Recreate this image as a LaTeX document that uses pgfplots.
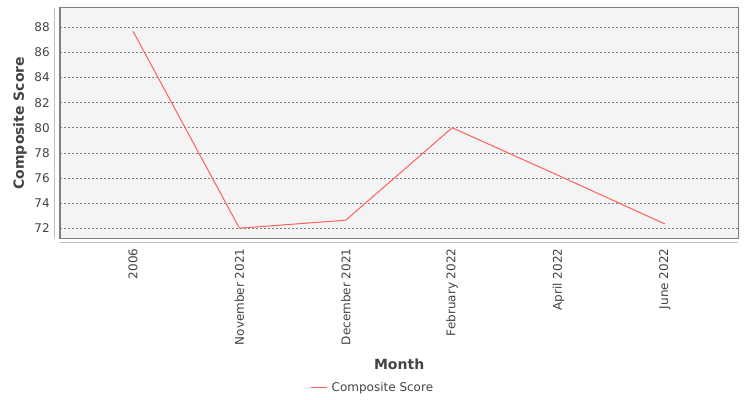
\documentclass[border=0pt]{standalone}
\usepackage{pgfplots}
\pgfplotsset{compat=1.18}
\usepackage{fontspec}
\setmainfont{DejaVu Sans}
\definecolor{plotbg}{RGB}{244,244,244}
\definecolor{frameg}{RGB}{128,128,128}
\definecolor{axisg}{RGB}{192,192,192}
\definecolor{gridg}{RGB}{125,125,125}
\definecolor{txt}{RGB}{68,68,68}
\definecolor{serie}{RGB}{255,95,95}
\begin{document}
\begin{tikzpicture}[x=1pt,y=1pt]
\path[use as bounding box, fill=white] (0,0) rectangle (562.5,300);
\begin{axis}[
  at={(45pt,121.3pt)}, anchor=south west,
  scale only axis, width=508.7pt, height=172.7pt,
  xmin=-0.687, xmax=5.69, ymin=71.2, ymax=89.54,
  axis background/.style={fill=plotbg},
  axis line style={frameg, line width=0.75pt},
  xtick={0,1,2,3,4,5},
  xticklabels={2006,November 2021,December 2021,February 2022,April 2022,June 2022},
  ytick={72,74,76,78,80,82,84,86,88},
  major tick length=0pt,
  tick style={draw=none},
  ymajorgrids,
  grid style={gridg, line width=0.45pt, dash pattern=on 1.5pt off 1.5pt},
  ticklabel style={font=\fontsize{9}{10}\selectfont, text=txt},
  /pgf/number format/assume math mode=true,
  yticklabel style={inner sep=0pt, anchor=east},
  yticklabel shift=7.5pt,
  xticklabel style={inner sep=0pt, rotate=90, anchor=east},
  xticklabel shift=7.5pt,
  xlabel={Month}, ylabel={Composite Score},
  label style={font=\fontsize{10.5}{12}\selectfont\bfseries, text=txt},
  xlabel style={at={(axis description cs:0.5,0)}, anchor=center, yshift=-94.3pt},
  ylabel style={at={(axis description cs:-0.059,0.5)}, anchor=center},
  legend style={at={(rel axis cs:0.4628,-0.650)}, anchor=center, draw=none, fill=none,
    font=\fontsize{9}{10}\selectfont, text=txt, inner sep=0pt,
    nodes={inner xsep=3pt, inner ysep=1pt},
    /tikz/every even column/.append style={column sep=0pt}},
  legend cell align=left,
  legend image code/.code={\draw[#1] (0pt,0pt) -- (12pt,0pt);},
  clip=false,
]
\addplot[serie, line width=0.75pt, mark=none] coordinates {
  (0,87.68) (1,72.0) (2,72.64) (3,80.0) (4,76.2) (5,72.34)
};
\addlegendentry{Composite Score}
\draw[axisg, line width=0.75pt] ([xshift=-3.75pt]rel axis cs:0,0) -- ([xshift=-3.75pt]rel axis cs:0,1);
\draw[axisg, line width=0.75pt] ([yshift=-3pt]rel axis cs:0,0) -- ([yshift=-3pt]rel axis cs:1,0);
\end{axis}
\end{tikzpicture}
\end{document}
